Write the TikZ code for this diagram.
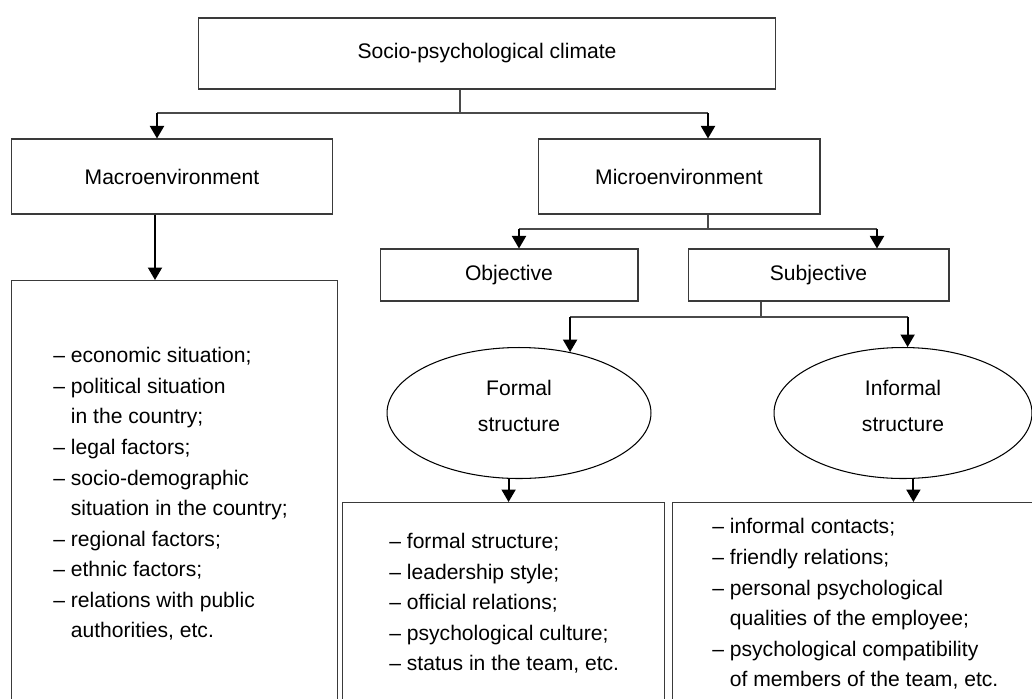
\documentclass[tikz,border=0pt]{standalone}
\usepackage{fontspec}
\setmainfont{Liberation Sans}
\usetikzlibrary{arrows.meta,shapes.geometric}

\definecolor{boxline}{HTML}{3A3A3A}
\definecolor{joinline}{HTML}{4A4A4A}
\definecolor{arrowline}{HTML}{000000}

\begin{document}
\begin{tikzpicture}[x=0.02cm, y=-0.02cm, font=\fontsize{12}{17.4}\selectfont]
            \useasboundingbox (0,0) rectangle (1032,698);

            % Top node
            \node[rectangle, draw=boxline, line width=0.6pt, minimum width=11.56cm, minimum height=1.42cm] (climate) at (487,53.5) {Socio-psychological climate};

            % Environment nodes
            \node[rectangle, draw=boxline, line width=0.6pt, minimum width=6.44cm, minimum height=1.5cm] (macro) at (172,176.5) {Macroenvironment};
            \node[rectangle, draw=boxline, line width=0.6pt, minimum width=5.64cm, minimum height=1.5cm] (micro) at (679,176.5) {Microenvironment};

            % Objective and subjective nodes
            \node[rectangle, draw=boxline, line width=0.6pt, minimum width=5.16cm, minimum height=1.04cm] (objective) at (509,275) {Objective};
            \node[rectangle, draw=boxline, line width=0.6pt, minimum width=5.22cm, minimum height=1.04cm] (subjective) at (818.5,275) {Subjective};

            % Structure nodes
            \node[ellipse, draw=black, line width=0.6pt, minimum width=5.28cm, minimum height=2.62cm] (formal) at (519,413) {};
            \node[ellipse, draw=black, line width=0.6pt, minimum width=5.16cm, minimum height=2.62cm] (informal) at (903,413) {};
            \node[align=center, inner sep=0pt, font=\fontsize{12}{20.4}\selectfont] (formaltext) at (519,406) {Formal\\structure};
            \node[align=center, inner sep=0pt, font=\fontsize{12}{20.4}\selectfont] (informaltext) at (903,406) {Informal\\structure};

            % List boxes
            \node[rectangle, draw=boxline, line width=0.6pt, anchor=north west, minimum width=6.52cm, minimum height=8.8cm] (macrolist) at (11,280) {};
            \node[rectangle, draw=boxline, line width=0.6pt, anchor=north west, minimum width=6.44cm, minimum height=4.6cm] (formallist) at (342,502) {};
            \node[rectangle, draw=boxline, line width=0.6pt, anchor=north west, minimum width=7.4cm, minimum height=4.6cm] (informallist) at (672,502) {};

            % List texts
            \node[anchor=west, align=left, inner sep=0pt] (macroitems) at (53,494) {– economic situation;\\– political situation\\\hphantom{– }in the country;\\– legal factors;\\– socio-demographic\\\hphantom{– }situation in the country;\\– regional factors;\\– ethnic factors;\\– relations with public\\\hphantom{– }authorities, etc.};
            \node[anchor=west, align=left, inner sep=0pt] (formalitems) at (389,603.5) {– formal structure;\\– leadership style;\\– official relations;\\– psychological culture;\\– status in the team, etc.};
            \node[anchor=west, align=left, inner sep=0pt] (informalitems) at (712,604) {– informal contacts;\\– friendly relations;\\– personal psychological\\\hphantom{– }qualities of the employee;\\– psychological compatibility\\\hphantom{– }of members of the team, etc.};

            % Branch points
            \coordinate (split1) at (460,113);
            \coordinate (split2) at (708,229);
            \coordinate (split3) at (761,317);
            \coordinate (macroin) at (157,0);
            \coordinate (microin) at (708,0);
            \coordinate (macroout) at (155,0);
            \coordinate (objin) at (519,0);
            \coordinate (subjin) at (877,0);

            % Climate to environments
            \draw[joinline, line width=0.6pt] (climate.south -| split1) -- (split1);
            \draw[joinline, line width=0.6pt] (macroin |- split1) -- (microin |- split1);
            \draw[-{Triangle[width=0.28cm, length=0.25cm]}, color=arrowline, line width=1.1pt] (macroin |- split1) -- (macroin |- macro.north);
            \draw[-{Triangle[width=0.28cm, length=0.25cm]}, color=arrowline, line width=1.1pt] (microin |- split1) -- (microin |- micro.north);

            % Macroenvironment to list
            \draw[-{Triangle[width=0.28cm, length=0.25cm]}, color=arrowline, line width=1.1pt] (macroout |- macro.south) -- (macroout |- macrolist.north);

            % Microenvironment to objective and subjective
            \draw[joinline, line width=0.6pt] (micro.south -| split2) -- (split2);
            \draw[joinline, line width=0.6pt] (objin |- split2) -- (subjin |- split2);
            \draw[-{Triangle[width=0.28cm, length=0.25cm]}, color=arrowline, line width=1.1pt] (objin |- split2) -- (objin |- objective.north);
            \draw[-{Triangle[width=0.28cm, length=0.25cm]}, color=arrowline, line width=1.1pt] (subjin |- split2) -- (subjin |- subjective.north);

            % Subjective to structures
            \draw[joinline, line width=0.6pt] (subjective.south -| split3) -- (split3);
            \draw[joinline, line width=0.6pt] (formal.50 |- split3) -- (informal.86 |- split3);
            \draw[-{Triangle[width=0.28cm, length=0.25cm]}, color=arrowline, line width=1.1pt] (formal.50 |- split3) -- (formal.50);
            \draw[-{Triangle[width=0.28cm, length=0.25cm]}, color=arrowline, line width=1.1pt] (informal.86 |- split3) -- (informal.86);

            % Structures to lists
            \draw[-{Triangle[width=0.28cm, length=0.25cm]}, color=arrowline, line width=1.1pt] (formal.261) -- (formal.261 |- formallist.north);
            \draw[-{Triangle[width=0.28cm, length=0.25cm]}, color=arrowline, line width=1.1pt] (informal.279) -- (informal.279 |- informallist.north);

        \end{tikzpicture}
\end{document}
